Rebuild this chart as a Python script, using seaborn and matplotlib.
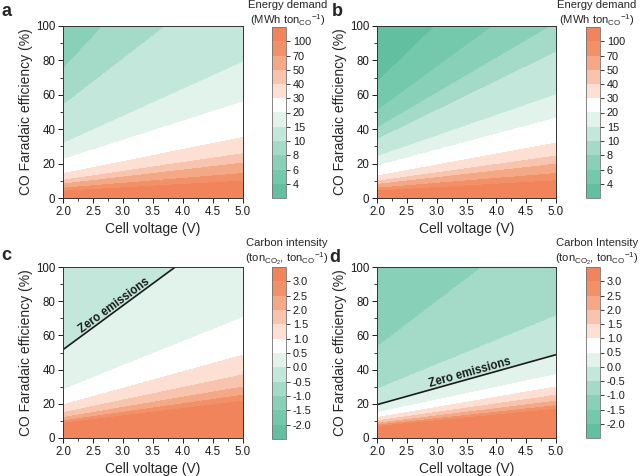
import numpy as np
import matplotlib
matplotlib.use("Agg")
import matplotlib.pyplot as plt
from matplotlib.ticker import MultipleLocator, FormatStrFormatter
import seaborn as sns

# axis ranges
voltage_range = [2.0, 5.0]
fe_range = [0.0, 100.0]

# contour levels (colorbar ticks)
energy_levels = [4, 6, 8, 10, 15, 20, 30, 40, 50, 70, 100]
carbon_levels = [-2.0, -1.5, -1.0, -0.5, 0.0, 0.5, 1.0, 1.5, 2.0, 2.5, 3.0]

# model: value = slope * V / FE(%) + offset
energy_slope = [191.0, 205.0]     # panels a, b
energy_offset = [2.9, -2.1]
carbon_slope = [15.5, 15.4]       # panels c, d
carbon_offset = [-0.6, -1.58]

# where the "Zero emissions" label sits (cell voltage) in c and d
zero_label_v = [2.85, 3.55]

band_colors = ['#62c0a0', '#74c8ab', '#88d0b8', '#a3dbc8', '#c3e8db', '#e2f3ec',
               '#ffffff', '#fde0d3', '#f9c4ad', '#f5a886', '#f29167', '#f1845a']

sns.set_theme(style="ticks")
plt.rcParams['font.family'] = ['Liberation Sans', 'DejaVu Sans']
plt.rcParams['mathtext.fontset'] = 'custom'
plt.rcParams['mathtext.rm'] = 'Liberation Sans'
plt.rcParams['mathtext.default'] = 'regular'

V, FE = np.meshgrid(np.linspace(voltage_range[0], voltage_range[1], 301),
                    np.linspace(0.05, fe_range[1], 1001))

fig = plt.figure(figsize=(6.4, 4.76), dpi=100)
W, H = 640.0, 476.0


def px_axes(x0, y0, x1, y1):
    return fig.add_axes([x0 / W, 1 - y1 / H, (x1 - x0) / W, (y1 - y0) / H])


def style_axes(ax):
    ax.set_xlim(voltage_range)
    ax.set_ylim(fe_range)
    ax.xaxis.set_major_locator(MultipleLocator(0.5))
    ax.xaxis.set_minor_locator(MultipleLocator(0.25))
    ax.yaxis.set_major_locator(MultipleLocator(20))
    ax.yaxis.set_minor_locator(MultipleLocator(10))
    ax.xaxis.set_major_formatter(FormatStrFormatter('%.1f'))
    ax.tick_params(which='major', direction='out', length=3.5, width=0.7,
                   labelsize=8.3, pad=2, colors='0.1')
    ax.tick_params(which='minor', direction='out', length=2, width=0.6, colors='0.1')
    for s in ax.spines.values():
        s.set_linewidth(0.7)
        s.set_color('0.2')
    ax.set_xlabel('Cell voltage (V)', fontsize=10, labelpad=3)
    ax.set_ylabel('CO Faradaic efficiency (%)', fontsize=10, labelpad=2)


def style_cbar(cb):
    cb.ax.tick_params(labelsize=7.8, length=3, width=0.6, direction='out', pad=2,
                      colors='0.1')
    cb.outline.set_linewidth(0.6)
    cb.outline.set_edgecolor('0.45')


panels = [
    ('a', (63, 26, 243, 198), (272, 27, 286, 198), 'energy', 0, 'Energy demand',
     '(MWh ton$_{CO}$$^{-1}$)', (288, 5, 20), (7, 11)),
    ('b', (377, 26, 556, 198), (586, 27, 600, 198), 'energy', 1, 'Energy demand',
     '(MWh ton$_{CO}$$^{-1}$)', (597, 5, 20), (337, 11)),
    ('c', (63, 267, 243, 438), (272, 267, 286, 439), 'carbon', 0, 'Carbon intensity',
     '(ton$_{CO_2}$, ton$_{CO}$$^{-1}$)', (287, 243, 258.5), (6, 255)),
    ('d', (377, 267, 556, 438), (586, 267, 600, 438), 'carbon', 1, 'Carbon Intensity',
     '(ton$_{CO_2}$, ton$_{CO}$$^{-1}$)', (597, 243, 258.5), (335, 257)),
]

for letter, abox, cbox, kind, i, t1, t2, tpos, lpos in panels:
    ax = px_axes(*abox)
    cax = px_axes(*cbox)
    if kind == 'energy':
        field = energy_slope[i] * V / FE + energy_offset[i]
        levels = energy_levels
    else:
        field = carbon_slope[i] * V / FE + carbon_offset[i]
        levels = carbon_levels
    bounds = [-1e9] + list(levels) + [1e9]
    cs = ax.contourf(V, FE, field, levels=bounds, colors=band_colors)
    style_axes(ax)
    cb = fig.colorbar(cs, cax=cax, ticks=levels)
    cb.ax.set_yticklabels([('%g' % l) if kind == 'energy' else ('%.1f' % l) for l in levels])
    style_cbar(cb)

    if kind == 'carbon':
        ax.contour(V, FE, field, levels=[0.0], colors='k', linewidths=1.2)
        line_slope = -carbon_slope[i] / carbon_offset[i]
        xv = zero_label_v[i]
        ang = np.degrees(np.arctan(line_slope))
        ax.text(xv, line_slope * xv + 3.8, 'Zero emissions', fontsize=8.3,
                fontweight='bold', rotation=ang, transform_rotates_text=True,
                rotation_mode='anchor', ha='center', va='center', color='k')

    fig.text(tpos[0] / W, 1 - tpos[1] / H, t1, fontsize=8.1, ha='center', va='center')
    fig.text(tpos[0] / W, 1 - tpos[2] / H, t2, fontsize=8.1, ha='center', va='center')
    fig.text(lpos[0] / W, 1 - lpos[1] / H, letter, fontsize=13, fontweight='bold',
             ha='center', va='center')

fig.savefig('out.png', dpi=100)
